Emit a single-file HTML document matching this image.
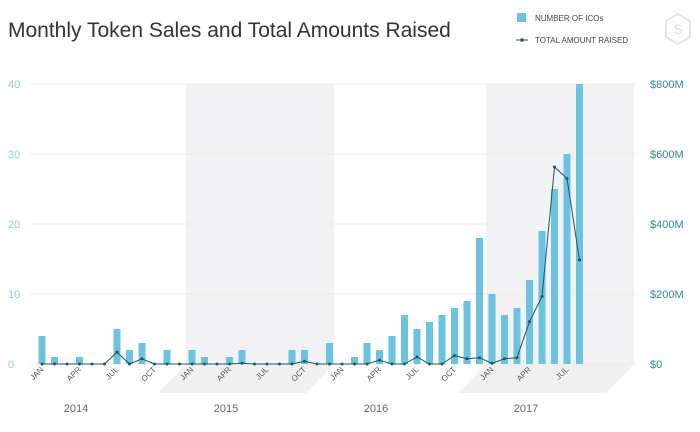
<!DOCTYPE html>
<html><head><meta charset="utf-8"><style>
html,body{margin:0;padding:0;background:#fff;}
svg{display:block;font-family:"Liberation Sans",sans-serif;}
</style></head><body>
<svg id="chart" width="700" height="432" viewBox="0 0 700 432">
<text x="8" y="37" font-size="21" fill="#333">Monthly Token Sales and Total Amounts Raised</text>
<g>
<rect x="517" y="13" width="9" height="9" fill="#6cc3df"/>
<text x="535" y="21" font-size="8" fill="#444">NUMBER OF ICOs</text>
<line x1="516" y1="40" x2="528" y2="40" stroke="#1f5565" stroke-width="1"/>
<circle cx="522" cy="40" r="1.8" fill="#1f5565"/>
<text x="535" y="43" font-size="8" fill="#444">TOTAL AMOUNT RAISED</text>
</g>
<g><polygon points="678,14 690,21 690,37 678,44 666,37 666,21" fill="none" stroke="#e4e4e4" stroke-width="2"/><text x="678" y="34" font-size="14" fill="#e0e0e0" text-anchor="middle">S</text></g>
<g id="bands"></g>
<g id="grid"></g>
<g id="bars"></g>
<g id="line"></g>
<g id="axes"></g>
</svg>
<script>
const months = ["JAN","FEB","MAR","APR","MAY","JUN","JUL","AUG","SEP","OCT","NOV","DEC"];
const years = ["2014","2015","2016","2017"];
const icoCounts = [4,1,0,1,0,0,5,2,3,0,2,0, 2,1,0,1,2,0,0,0,2,2,0,3, 0,1,3,2,4,7,5,6,7,8,9,18, 10,7,8,12,19,25,30,40];
const amountRaised = [0,0,0,0,0,0,34,0,15,0,0,0, 0,0,0,0,2,0,0,0,0,8,0,0, 0,0,0,11,0,0,20,0,0,24,15,18, 2,15,18,121,193,563,530,297];
const leftTicks = [0,10,20,30,40];
const rightTicks = [0,200,400,600,800];
const rightTickLabels = ["$0","$200M","$400M","$600M","$800M"];
const shadedYears = [1,3];

const NS="http://www.w3.org/2000/svg";
const x0=42, step=12.5, yBase=364, yTop=84;
const xm=i=>x0+i*step;
const yL=v=>yBase-(v/40)*(yBase-yTop);
const yR=v=>yBase-(v/800)*(yBase-yTop);
function mk(tag,attrs,parent,txt){const e=document.createElementNS(NS,tag);for(const k in attrs)e.setAttribute(k,attrs[k]);if(txt!==undefined)e.textContent=txt;document.getElementById(parent).appendChild(e);return e;}

shadedYears.forEach(yi=>{
  const a=xm(yi*12)-6, b=a+148;
  const r=mk('rect',{x:a,y:yTop,width:148,height:yBase-yTop,fill:'#f2f2f4'},'bands');
  
  
  const p=mk('polygon',{points:`${a},${yBase} ${b},${yBase} ${b-28},${yBase+29} ${a-28},${yBase+29}`,fill:'#f0f0f1'},'bands');
  
  
});
leftTicks.forEach((t,i)=>{
  const y=yL(t);
  const l=mk('line',{x1:30,x2:636,y1:y,y2:y,stroke:'#ececec','stroke-width':1},'grid');
  
  
  const tl=mk('text',{x:8,y:y+4,'font-size':11,fill:'#8ccfd6'},'axes',String(t));
  
  
  const tr=mk('text',{x:650,y:yR(rightTicks[i])+4,'font-size':11,fill:'#2e8a8c'},'axes',rightTickLabels[i]);
  
  
});
icoCounts.forEach((v,i)=>{
  const r=mk('rect',{x:xm(i)-3.5,y:yL(v),width:7,height:yBase-yL(v),fill:'#6cc3df'},'bars');
  
  
});
const pts=amountRaised.map((v,i)=>xm(i)+','+yR(v)).join(' ');
const pl=mk('polyline',{points:pts,fill:'none',stroke:'#1f5565','stroke-width':1},'line');


amountRaised.forEach((v,i)=>{
  const c=mk('circle',{cx:xm(i),cy:yR(v),r:1.5,fill:'#1f5565'},'line');
  
  
});
icoCounts.forEach((v,i)=>{
  if(i%3!==0)return;
  const x=xm(i)+2, y=370;
  const t=mk('text',{x:x,y:y,'font-size':8,fill:'#555','text-anchor':'end',transform:`rotate(-45 ${x} ${y})`},'axes',months[i%12]);
  
  
});
years.forEach((yr,yi)=>{
  const t=mk('text',{x:xm(yi*12)+34,y:412,'font-size':11,fill:'#666','text-anchor':'middle'},'axes',yr);
  
  
});
</script>
</body></html>
